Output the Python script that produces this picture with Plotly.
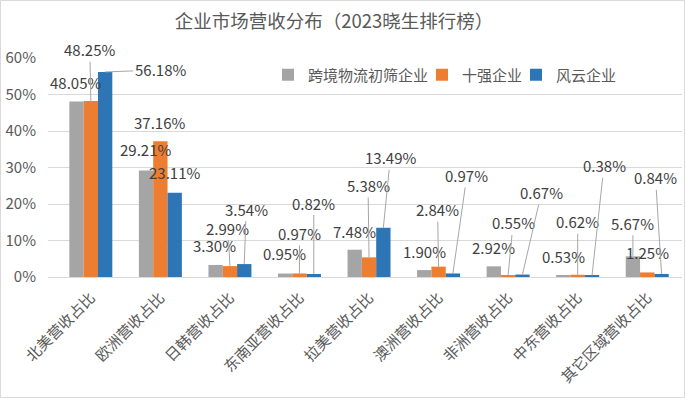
import plotly.graph_objects as go

categories = ["北美营收占比", "欧洲营收占比", "日韩营收占比", "东南亚营收占比", "拉美营收占比",
              "澳洲营收占比", "非洲营收占比", "中东营收占比", "其它区域营收占比"]
series_names = ["跨境物流初筛企业", "十强企业", "风云企业"]
gray_vals = [48.05, 29.21, 3.30, 0.95, 7.48, 1.90, 2.92, 0.53, 5.67]
orange_vals = [48.25, 37.16, 2.99, 0.97, 5.38, 2.84, 0.55, 0.62, 1.25]
blue_vals = [56.18, 23.11, 3.54, 0.82, 13.49, 0.97, 0.67, 0.38, 0.84]
series_vals = [gray_vals, orange_vals, blue_vals]
colors = ["#a5a5a5", "#ed7d31", "#2e75b6"]

# label placement (pixel offsets from bar top), and whether a leader line is drawn
label_offsets = [
    [(-1, -19, False), (-1, -51, True), (55, -2, True)],
    [(-1, -21, False), (-1, -19, False), (0, -20, False)],
    [(-1, -19, False), (-2, -38, True), (2, -55, True)],
    [(-1, -20, False), (0, -40, True), (0, -71, True)],
    [(0, -18, False), (-1, -72, True), (7, -70, True)],
    [(0, -19, False), (-1, -57, True), (14, -98, True)],
    [(0, -19, False), (5, -52, True), (19, -82, True)],
    [(0, -19, False), (0, -53, True), (12, -110, True)],
    [(0, -33, True), (0, -20, False), (-6, -96, True)],
]
# legend entry left edges (px)
legend_x_px = [268, 422, 516]

W, H = 685, 398
L, R, T, B = 48, 3, 58, 121
bargap = 0.382
bw = (1 - bargap) / 3
pw = W - L - R
ph = H - T - B

fig = go.Figure()
legend_keys = ["legend2", "legend3", "legend4"]
for name, vals, col, lk in zip(series_names, series_vals, colors, legend_keys):
    fig.add_trace(go.Bar(
        x=categories, y=[v / 100 for v in vals], name=name, legend=lk,
        marker=dict(color=col, line=dict(width=0)),
    ))

annotations = []
for ci in range(len(categories)):
    for si in range(3):
        v = series_vals[si][ci]
        dx, dy, line = label_offsets[ci][si]
        xpos = ci + (si - 1) * bw
        txt = f"{v:.2f}%"
        common = dict(x=xpos, y=v / 100, xref="x", yref="y", text=txt,
                      font=dict(family="Noto Sans CJK SC", size=15, color="#404040"))
        if line:
            annotations.append(dict(**common, showarrow=True, arrowhead=0, arrowwidth=1,
                                    arrowcolor="#a6a6a6", ax=dx, ay=dy, standoff=0,
                                    borderpad=1))
        else:
            annotations.append(dict(**common, showarrow=False, xshift=dx, yshift=-dy,
                                    xanchor="center", yanchor="middle"))

legend_common = dict(orientation="h", xanchor="left", y=1 - (75 - T) / ph,
                     yanchor="middle", bgcolor="rgba(0,0,0,0)",
                     font=dict(family="Noto Sans CJK SC", size=15, color="#595959"),
                     itemwidth=30)

fig.update_layout(
    width=W, height=H,
    margin=dict(l=L, r=R, t=T, b=B, pad=0, autoexpand=False),
    paper_bgcolor="white", plot_bgcolor="white",
    barmode="group", bargap=bargap, bargroupgap=0,
    font=dict(family="Noto Sans CJK SC", size=15, color="#595959"),
    title=dict(text="企业市场营收分布（2023晓生排行榜）", x=334 / W, xanchor="center",
               y=1 - 22 / H, yanchor="middle", automargin=False,
               font=dict(family="Noto Sans CJK SC", size=18.5, color="#595959")),
    legend2=dict(**legend_common, x=(legend_x_px[0] - L) / pw),
    legend3=dict(**legend_common, x=(legend_x_px[1] - L) / pw),
    legend4=dict(**legend_common, x=(legend_x_px[2] - L) / pw),
    annotations=annotations,
    shapes=[dict(type="rect", xref="paper", yref="paper",
                 x0=(0.5 - L) / pw, x1=(684.5 - L) / pw,
                 y0=(T + ph - (H - 0.5)) / ph, y1=(T + ph - 0.5) / ph,
                 line=dict(color="#d9d9d9", width=1), fillcolor="rgba(0,0,0,0)")],
)
fig.update_yaxes(range=[0, 0.6], dtick=0.1, tickformat=".0%", gridcolor="#d9d9d9",
                 gridwidth=1, zeroline=False, showline=False, ticklabelstandoff=11,
                 automargin=False, tickfont=dict(size=15, color="#595959"))
fig.update_xaxes(type="category", showline=True, linecolor="#d9d9d9", linewidth=1,
                 tickangle=-45, ticks="", tickfont=dict(size=15, color="#595959"),
                 automargin=False, ticklabelstandoff=5, ticklabelshift=0)

fig.write_html("out.html", config={"displayModeBar": False},
               post_script="document.body.style.margin='0';document.body.style.overflow='hidden';")
